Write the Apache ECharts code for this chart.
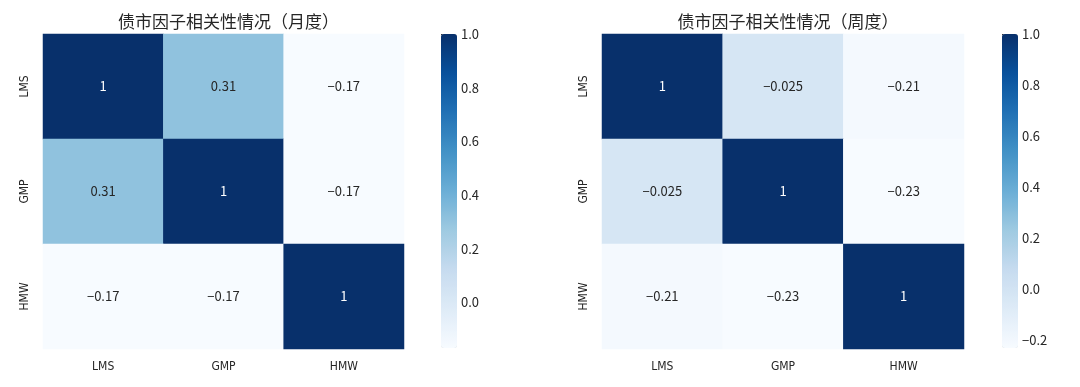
<!DOCTYPE html>
<html><head><meta charset="utf-8">
<script src="https://cdn.jsdelivr.net/npm/echarts@6/dist/echarts.min.js"></script>
<style>html,body{margin:0;padding:0;background:#fff}#c{width:1080px;height:387px}</style>
</head><body><div id="c"></div>
<script>
const factors = ['LMS', 'GMP', 'HMW'];
const titleMonthly = '债市因子相关性情况（月度）';
const titleWeekly = '债市因子相关性情况（周度）';
const corrMonthly = [
  [1, 0.31, -0.17],
  [0.31, 1, -0.17],
  [-0.17, -0.17, 1]
];
const corrWeekly = [
  [1, -0.025, -0.21],
  [-0.025, 1, -0.23],
  [-0.21, -0.23, 1]
];
const rangeMonthly = [-0.17, 1];
const rangeWeekly = [-0.23, 1];
const ticksMonthly = [0, 0.2, 0.4, 0.6, 0.8, 1.0];
const ticksWeekly = [-0.2, 0, 0.2, 0.4, 0.6, 0.8, 1.0];

const blues = ['#f7fbff','#deebf7','#c6dbef','#9ecae1','#6baed6','#4292c6','#2171b5','#08519c','#08306b'];
const TXT = '#262626';
const FONT = '"Noto Sans CJK SC", sans-serif';
const NARROW = '"Liberation Sans Narrow", "DejaVu Sans Condensed", "Roboto Condensed", ' + FONT;

function cells(mat, range) {
  const out = [];
  mat.forEach((row, i) => row.forEach((v, j) => {
    const t = (v - range[0]) / (range[1] - range[0]);
    out.push({ value: [j, i, v], label: { color: t > 0.6 ? '#ffffff' : TXT } });
  }));
  return out;
}
const fmt = v => String(v).replace('-', '\u2212');

const panels = [
  { left: 43, width: 361, cbLeft: 441, mat: corrMonthly, range: rangeMonthly, ticks: ticksMonthly, title: titleMonthly },
  { left: 602, width: 362, cbLeft: 1002, mat: corrWeekly, range: rangeWeekly, ticks: ticksWeekly, title: titleWeekly }
];

const option = { animation: false, title: [], grid: [], xAxis: [], yAxis: [], series: [], visualMap: [] };
panels.forEach((p, k) => {
  option.title.push({ text: p.title, left: p.left + p.width / 2, top: 8, textAlign: 'center',
    textStyle: { fontFamily: FONT, fontSize: 17, fontWeight: 'normal', color: TXT } });
  option.grid.push({ left: p.left, width: p.width, top: 34, height: 315 });
  option.grid.push({ left: p.cbLeft, width: 16, top: 34, height: 314 });
  option.xAxis.push({ type: 'category', data: factors, gridIndex: 2 * k,
    axisLine: { show: false }, axisTick: { show: false }, splitLine: { show: false },
    axisLabel: { color: TXT, fontSize: 12, fontFamily: NARROW, margin: 12 } });
  option.xAxis.push({ type: 'value', gridIndex: 2 * k + 1, show: false, min: 0, max: 1 });
  option.yAxis.push({ type: 'category', data: factors, gridIndex: 2 * k, inverse: true,
    axisLine: { show: false }, axisTick: { show: false }, splitLine: { show: false },
    axisLabel: { color: TXT, fontSize: 12, rotate: 90, fontFamily: NARROW, margin: 12 } });
  option.yAxis.push({ type: 'value', gridIndex: 2 * k + 1, position: 'right', min: p.range[0], max: p.range[1],
    axisLine: { show: false }, splitLine: { show: false },
    axisTick: { show: true, length: 4, customValues: p.ticks, lineStyle: { color: TXT } },
    axisLabel: { show: true, customValues: p.ticks, margin: 4, color: TXT, fontSize: 13, fontFamily: FONT,
      formatter: v => fmt((Math.round(v * 10) / 10).toFixed(1)) } });
  option.series.push({ type: 'heatmap', xAxisIndex: 2 * k, yAxisIndex: 2 * k, data: cells(p.mat, p.range),
    label: { show: true, fontSize: 13, fontFamily: FONT, formatter: pr => fmt(pr.value[2]) },
    itemStyle: { borderWidth: 0 }, emphasis: { disabled: true } });
  option.visualMap.push({ type: 'continuous', seriesIndex: k, dimension: 2, min: p.range[0], max: p.range[1],
    left: p.cbLeft, top: 34, itemWidth: 16, itemHeight: 314, padding: 0, calculable: false,
    showLabel: false, text: null, inRange: { color: blues } });
});
const chart = echarts.init(document.getElementById('c'), null, { renderer: 'canvas' });
chart.setOption(option);
</script></body></html>
